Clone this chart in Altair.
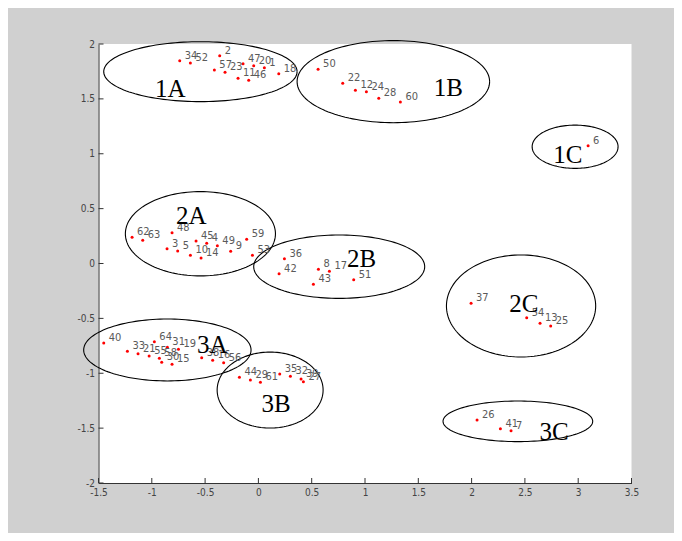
import altair as alt
import numpy as np
import pandas as pd

# point ids and coordinates
ids = [34, 52, 2, 57, 23, 47, 20, 1, 11, 46, 18,
       50, 22, 12, 24, 28, 60,
       6,
       62, 63, 48, 3, 5, 45, 4, 10, 14, 49, 9, 59, 53,
       36, 42, 8, 17, 43, 51,
       37, 54, 13, 25,
       26, 41, 7,
       40, 33, 21, 55, 64, 58, 30, 15, 31, 19, 38, 16, 56,
       44, 29, 61, 35, 32, 39, 27]
xs_pt = [-0.738, -0.638, -0.363, -0.413, -0.313, -0.144, -0.044, 0.056, -0.191, -0.091, 0.191,
         0.560, 0.791, 0.910, 1.013, 1.129, 1.332,
         3.093,
         -1.185, -1.085, -0.810, -0.857, -0.757, -0.585, -0.485, -0.638, -0.538, -0.385, -0.260, -0.110, -0.056,
         0.244, 0.194, 0.563, 0.666, 0.516, 0.894,
         1.995, 2.517, 2.642, 2.742,
         2.051, 2.270, 2.370,
         -1.451, -1.229, -1.129, -1.025, -0.976, -0.929, -0.907, -0.810, -0.854, -0.750, -0.532, -0.429, -0.326,
         -0.178, -0.075, 0.019, 0.200, 0.300, 0.400, 0.422]
ys_pt = [1.848, 1.827, 1.893, 1.763, 1.742, 1.821, 1.802, 1.784, 1.687, 1.669, 1.729,
         1.769, 1.642, 1.578, 1.566, 1.505, 1.472,
         1.073,
         0.239, 0.211, 0.281, 0.135, 0.114, 0.205, 0.184, 0.075, 0.050, 0.162, 0.111, 0.220, 0.075,
         0.044, -0.093, -0.053, -0.071, -0.190, -0.148,
         -0.363, -0.494, -0.545, -0.569,
         -1.426, -1.505, -1.523,
         -0.724, -0.800, -0.822, -0.843, -0.712, -0.864, -0.900, -0.919, -0.764, -0.782, -0.858, -0.882, -0.904,
         -1.037, -1.062, -1.083, -1.007, -1.028, -1.052, -1.077]

# cluster ellipses
cl_names = ["1A", "1B", "1C", "2A", "2B", "2C", "3A", "3B", "3C"]
cl_cx = [-0.544, 1.266, 2.971, -0.544, 0.758, 2.464, -0.854, 0.110, 2.434]
cl_cy = [1.748, 1.657, 1.064, 0.271, -0.029, -0.387, -0.788, -1.153, -1.438]
cl_rx = [0.907, 0.903, 0.403, 0.704, 0.802, 0.700, 0.785, 0.497, 0.702]
cl_ry = [0.273, 0.374, 0.197, 0.384, 0.289, 0.465, 0.282, 0.346, 0.185]

# cluster label positions
lab_x = [-0.826, 1.781, 2.903, -0.630, 0.969, 2.489, -0.432, 0.167, 2.774]
lab_y = [1.520, 1.524, 0.918, 0.357, -0.035, -0.439, -0.818, -1.350, -1.608]

x_ticks = [-1.5, -1, -0.5, 0, 0.5, 1, 1.5, 2, 2.5, 3, 3.5]
y_ticks = [-2, -1.5, -1, -0.5, 0, 0.5, 1, 1.5, 2]

W, H = 533, 439

pts = pd.DataFrame({"id": ids, "x": xs_pt, "y": ys_pt})
labs = pd.DataFrame({"name": cl_names, "x": lab_x, "y": lab_y})

t = np.linspace(0, 2 * np.pi, 145)
rows = []
for n, cx, cy, rx, ry in zip(cl_names, cl_cx, cl_cy, cl_rx, cl_ry):
    for k, a in enumerate(t):
        rows.append({"name": n, "k": k, "x": cx + rx * np.cos(a), "y": cy + ry * np.sin(a)})
ell = pd.DataFrame(rows)

xsc = alt.Scale(domain=[-1.5, 3.5], nice=False, zero=False)
ysc = alt.Scale(domain=[-2, 2], nice=False, zero=False)

lab_font = "Liberation Sans Narrow, DejaVu Sans Condensed, Liberation Sans"
common_axis = dict(grid=False, ticks=False, domainColor="#333333", domainWidth=1,
                   labelFont=lab_font, labelFontSize=10, labelColor="#444444",
                   labelFlush=False, labelOverlap=False, title=None, format=".1~f",
                   labelExpr="replace(datum.label, '\u2212', '-')")
xaxis = alt.Axis(values=x_ticks, labelPadding=4, **common_axis)
yaxis = alt.Axis(values=y_ticks, labelPadding=4, **common_axis)


def X(f):
    return alt.X(f, type="quantitative", scale=xsc, axis=xaxis)


def Y(f):
    return alt.Y(f, type="quantitative", scale=ysc, axis=yaxis)


points = alt.Chart(pts).mark_circle(size=9, color="#ff0000", opacity=1).encode(x=X("x"), y=Y("y"))
numbers = alt.Chart(pts).mark_text(align="left", baseline="middle", dx=5, dy=-5,
                                   fontSize=11, font=lab_font, color="#5a5a5a").encode(
    x=X("x"), y=Y("y"), text="id:N")
ellipses = alt.Chart(ell).mark_line(color="black", strokeWidth=1.1).encode(
    x=X("x"), y=Y("y"), detail="name:N", order="k:Q")
names = alt.Chart(labs).mark_text(align="center", baseline="alphabetic", fontSize=25,
                                  font="Liberation Serif, DejaVu Serif", color="black").encode(
    x=X("x"), y=Y("y"), text="name:N")

xt = alt.Chart(pd.DataFrame({"v": x_ticks})).mark_rule(color="#333333", strokeWidth=1).encode(
    x=X("v"), y=alt.value(H), y2=alt.value(H - 5))
yt = alt.Chart(pd.DataFrame({"v": y_ticks})).mark_rule(color="#333333", strokeWidth=1).encode(
    y=Y("v"), x=alt.value(0), x2=alt.value(5))

chart = alt.layer(ellipses, points, numbers, names, xt, yt).properties(
    width=W, height=H,
    padding={"left": 90.5, "top": 36, "right": 42.5, "bottom": 50},
    autosize=alt.AutoSizeParams(type="none"),
    background="#d0d0d0",
).configure_view(fill="white", strokeWidth=0)

chart.save("out.html", embed_options={"renderer": "svg", "actions": False})
